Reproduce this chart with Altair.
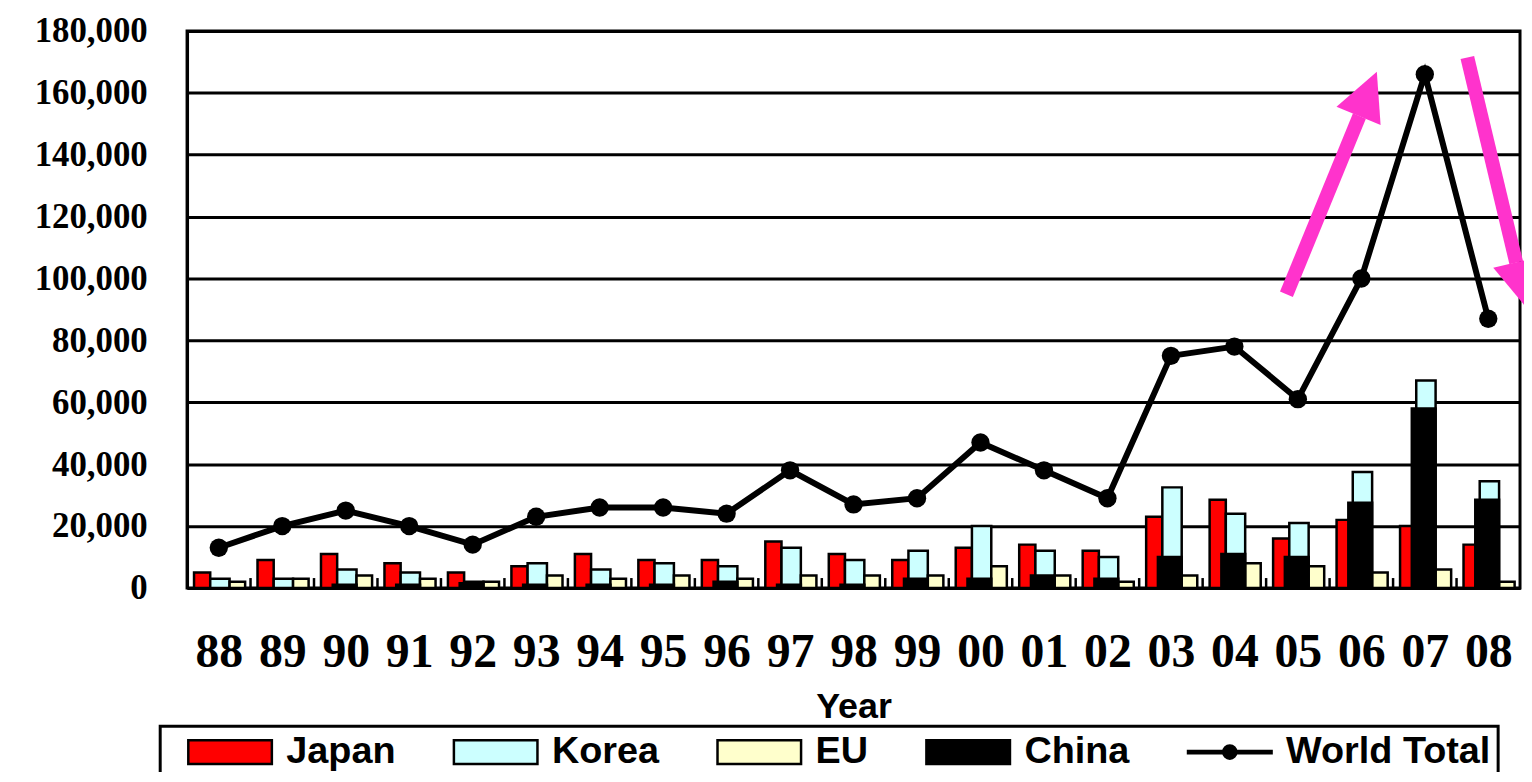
import altair as alt
import pandas as pd

years = ["88", "89", "90", "91", "92", "93", "94", "95", "96", "97", "98",
         "99", "00", "01", "02", "03", "04", "05", "06", "07", "08"]
japan = [5000, 9000, 11000, 8000, 5000, 7000, 11000, 9000, 9000, 15000, 11000,
         9000, 13000, 14000, 12000, 23000, 28500, 16000, 22000, 20000, 14000]
korea = [3000, 3000, 6000, 5000, 2000, 8000, 6000, 8000, 7000, 13000, 9000,
         12000, 20000, 12000, 10000, 32500, 24000, 21000, 37500, 67000, 34500]
eu = [2000, 3000, 4000, 3000, 2000, 4000, 3000, 4000, 3000, 4000, 4000,
      4000, 7000, 4000, 2000, 4000, 8000, 7000, 5000, 6000, 2000]
china = [0, 0, 1000, 1000, 1500, 1000, 1000, 1000, 2000, 1000, 1000,
         3000, 3000, 4000, 3000, 10000, 11000, 10000, 27500, 58000, 28500]
world = [13000, 20000, 25000, 20000, 14000, 23000, 26000, 26000, 24000, 38000, 27000,
         29000, 47000, 38000, 29000, 75000, 78000, 61000, 100000, 166000, 87000]
y_ticks = [0, 20000, 40000, 60000, 80000, 100000, 120000, 140000, 160000, 180000]

# annotation arrows (data units: year index, value)
arrow_x = [16.82, 19.67]
arrow_y = [94900, 171400]
arrow_x2 = [17.97, 20.44]
arrow_y2 = [152500, 105100]
head_x = [18.10, 20.53]
head_y = [159700, 97700]
head_angle = [22.5, 166.9]

legend_names = ["Japan", "Korea", "EU", "China", "World Total"]

# ---- styling / layout ----
colors = {"Japan": "#ff0000", "Korea": "#ccffff", "EU": "#ffffcc", "China": "#000000"}
offsets = {"Japan": (-0.39, -0.135), "Korea": (-0.135, 0.17),
           "EU": (0.17, 0.415), "China": (-0.205, 0.17)}
values = {"Japan": japan, "Korea": korea, "EU": eu, "China": china}
idx = list(range(len(years)))

rect_path = "M-3.5,-1H3.5V1H-3.5Z"
line_path = ("M-3.5,-0.1H3.5V0.1H-3.5Z "
             "M0.55,0A0.55,0.55,0,1,1,-0.55,0A0.55,0.55,0,1,1,0.55,0Z")
legend_colors = ["#ff0000", "#ccffff", "#ffffcc", "#000000", "#000000"]
legend_shapes = [rect_path, rect_path, rect_path, rect_path, line_path]

rows = []
for s in ["Japan", "Korea", "EU", "China"]:
    for i, v in zip(idx, values[s]):
        rows.append({"series": s, "i": i, "v": v,
                     "x0": i + offsets[s][0], "x1": i + offsets[s][1], "base": 0})
bars = pd.DataFrame(rows)
bars = bars[bars["v"] > 0]

line_df = pd.DataFrame({"i": idx, "world": world})
tick_df = pd.DataFrame({"b": [i - 0.5 for i in idx[1:]]})
arrow_df = pd.DataFrame({"x": arrow_x, "y": arrow_y, "x2": arrow_x2, "y2": arrow_y2})
head_df = pd.DataFrame({"x": head_x, "y": head_y, "a": head_angle})

xs = alt.Scale(domain=[-0.5, 20.5], nice=False, zero=False)
ys = alt.Scale(domain=[0, 180000], nice=False)

label_expr = "[" + ",".join("'%s'" % y for y in years) + "][datum.value]"

x_axis = alt.Axis(values=idx, labelExpr=label_expr, grid=False, ticks=False, tickSize=0,
                  domainColor="black", domainWidth=3,
                  labelFont="Liberation Serif", labelFontWeight="bold", labelFontSize=48,
                  labelColor="black", labelPadding=65, labelBaseline="middle",
                  labelFlush=False, labelOverlap=False,
                  title="Year", titleFont="Liberation Sans", titleFontWeight="bold",
                  titleFontSize=36, titleColor="black", titleY=119, titleBaseline="middle")
y_axis = alt.Axis(values=y_ticks, labelExpr="format(datum.value, ',')",
                  grid=True, gridColor="black", gridWidth=3,
                  ticks=False, tickSize=0, domainColor="black", domainWidth=3,
                  labelFont="Liberation Serif", labelFontWeight="bold", labelFontSize=35,
                  labelColor="black", labelPadding=40, title=None)

layers = []
first = True
for s in ["Japan", "Korea", "EU", "China"]:
    d = bars[bars["series"] == s]
    enc = dict(
        x=alt.X("x0:Q", scale=xs, axis=x_axis) if first else alt.X("x0:Q", scale=xs),
        x2="x1:Q",
        y=alt.Y("v:Q", scale=ys, axis=y_axis) if first else alt.Y("v:Q", scale=ys),
        y2="base:Q",
    )
    first = False
    layers.append(alt.Chart(d).mark_rect(fill=colors[s], stroke="black", strokeWidth=2.5).encode(**enc))

ticks_layer = alt.Chart(tick_df).mark_rule(color="black", strokeWidth=2.5).encode(
    x=alt.X("b:Q", scale=xs), y=alt.Y(datum=0), y2=alt.Y2(datum=3200))

line_layer = alt.Chart(line_df).mark_line(color="black", strokeWidth=6).encode(
    x=alt.X("i:Q", scale=xs), y=alt.Y("world:Q", scale=ys))
pts_layer = alt.Chart(line_df).mark_circle(size=340, color="black", opacity=1).encode(
    x=alt.X("i:Q", scale=xs), y=alt.Y("world:Q", scale=ys))

arrow_layer = alt.Chart(arrow_df).mark_rule(color="#ff33cc", strokeWidth=14).encode(
    x=alt.X("x:Q", scale=xs), y=alt.Y("y:Q", scale=ys), x2="x2:Q", y2="y2:Q")
head_layer = alt.Chart(head_df).mark_point(
    shape="M0,-1L1,1L-1,1Z", size=2304, filled=True, color="#ff33cc", opacity=1,
    strokeWidth=0).encode(
    x=alt.X("x:Q", scale=xs), y=alt.Y("y:Q", scale=ys), angle=alt.Angle("a:Q", scale=None))

leg = alt.Legend(orient="none", legendX=-27, legendY=699, direction="horizontal", columns=5,
                 title=" ", titleOrient="left", titleFontSize=2, titlePadding=20,
                 padding=7, strokeColor="black",
                 symbolSize=576, symbolOffset=24.25, labelOffset=37.5,
                 symbolStrokeWidth=2.5, symbolStrokeColor="black",
                 labelFont="Liberation Sans", labelFontWeight="bold", labelFontSize=38,
                 labelColor="black", labelLimit=500, columnPadding=53)

legend_layer = alt.Chart(bars).transform_filter("false").mark_point(
    filled=True, stroke="black", strokeWidth=2.5, opacity=1).encode(
    x=alt.X("i:Q", scale=xs), y=alt.Y("v:Q", scale=ys),
    color=alt.Color("series:N", scale=alt.Scale(domain=legend_names, range=legend_colors), legend=leg),
    shape=alt.Shape("series:N", scale=alt.Scale(domain=legend_names, range=legend_shapes), legend=leg))

chart = alt.layer(*layers, ticks_layer, line_layer, pts_layer, arrow_layer, head_layer,
                  legend_layer).properties(
    width=1340, height=560,
    autosize=alt.AutoSizeParams(type="none"),
    padding={"left": 180, "top": 21, "right": 4, "bottom": 183},
    background="white",
).configure_view(stroke="black", strokeWidth=3).configure_legend(strokeWidth=3)

chart.save("out.html", embed_options={"renderer": "svg", "actions": False})
